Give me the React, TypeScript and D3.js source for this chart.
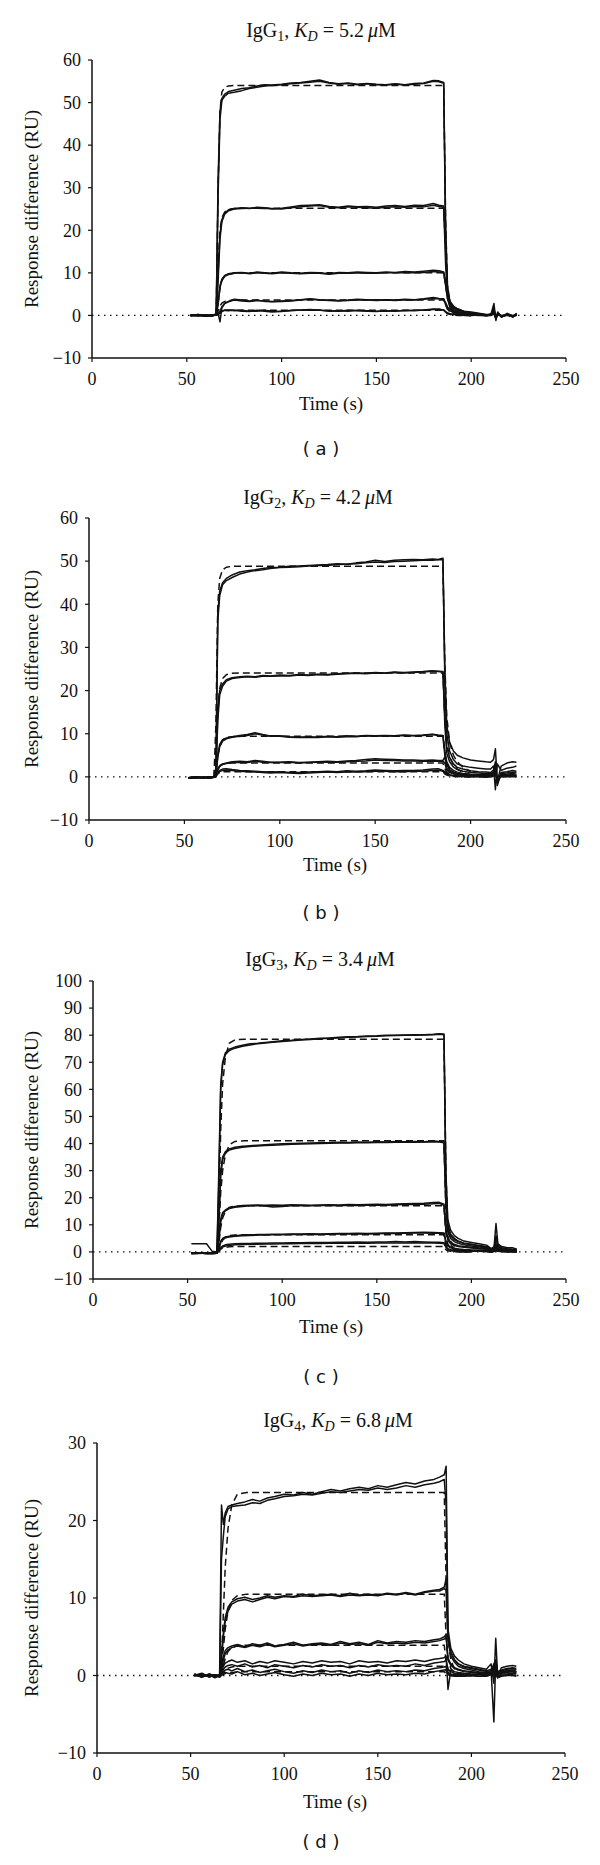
import React from 'react';
import * as d3 from 'd3';

// ---------- shared time grids (s) ----------
const TIME = [52, 56, 60, 63, 65.5, 66.5, 67.5, 68.5, 70, 72,
  75, 79, 83, 87, 91, 95, 100, 105, 110, 115,
  120, 125, 130, 135, 140, 145, 150, 155, 160, 165,
  170, 175, 180, 183, 185.5, 186.5, 187.5, 189, 191, 193,
  196, 200, 204, 208, 210.5, 212, 213, 214, 216, 219,
  222, 224];
const FIT_TIME = [65.5, 66.5, 67.5, 68.5, 70, 72, 75, 80, 90, 185.5, 186.5, 187.5, 189, 191, 193, 196, 200];

// ---------- text ----------
const SUBCLASS = ['1', '2', '3', '4'];
const KD_VALUES = ['5.2', '4.2', '3.4', '6.8'];
const PANEL_LETTERS = ['a', 'b', 'c', 'd'];
const Y_MAX = [60, 60, 100, 30];
const Y_MIN = -10;
const X_TICKS = [0, 50, 100, 150, 200, 250];

// ---------- panel (a) IgG1 ----------
const a1r1 = [0, 0.2, -0.2, 0.1, 0.3, 32, 48, 51, 52, 52.6,
  52.9, 53.3, 53.5, 53.9, 54.2, 54.1, 54.3, 54.6, 54.7, 55.0,
  55.3, 54.7, 54.4, 54.6, 54.3, 54.5, 54.3, 54.2, 54.4, 54.2,
  54.5, 54.6, 55.2, 55.1, 54.7, 18, 4, 1.5, 1, 0.7,
  0.5, 0.3, 0.2, 0, 0.4, 2.8, -1.2, 0.8, -0.4, 0.3,
  -0.4, 0.4];
const a1r2 = [0.1, -0.1, 0, -0.2, 0.2, 28, 46, 50.5, 51.5, 52.2,
  52.4, 52.8, 53.3, 53.6, 53.9, 54.0, 54.2, 54.4, 54.6, 54.8,
  55.0, 54.6, 54.3, 54.5, 54.2, 54.4, 54.2, 54.1, 54.3, 54.1,
  54.3, 54.5, 55.0, 54.9, 54.5, 22, 6, 2, 1.3, 0.9,
  0.6, 0.4, 0.2, 0.1, 0.3, 1.8, -0.8, 0.5, -0.2, 0.1,
  -0.2, 0.2];
const a2r1 = [0, 0.1, -0.2, 0.1, 0.2, 10, 19, 22.5, 24, 24.8,
  25.1, 25.3, 25.1, 25.4, 25.3, 25.0, 25.2, 25.5, 25.8, 25.9,
  26.0, 25.6, 25.4, 25.7, 25.5, 25.6, 25.4, 25.7, 25.8, 25.6,
  25.9, 25.8, 26.3, 25.9, 25.7, 16, 6, 3, 2, 1.5,
  1.0, 0.8, 0.5, 0.2, 0.3, 1.5, -0.8, 0.6, -0.3, 0.5,
  -0.2, 0.5];
const a2r2 = [-0.1, 0, 0.1, -0.1, 0.1, 8, 18, 22, 23.8, 24.6,
  25.0, 25.1, 25.2, 25.2, 25.1, 25.1, 25.0, 25.3, 25.5, 25.7,
  25.8, 25.4, 25.3, 25.5, 25.4, 25.3, 25.2, 25.4, 25.5, 25.4,
  25.6, 25.5, 25.9, 25.6, 25.4, 12, 4.5, 2.5, 1.8, 1.2,
  0.9, 0.6, 0.4, 0.1, 0.2, 1.0, -0.5, 0.4, -0.2, 0.3,
  -0.1, 0.3];
const a3r1 = [0, 0.2, 0, -0.1, 0.2, 3, 7, 8.5, 9.4, 9.8,
  10.0, 10.1, 9.9, 10.2, 10.0, 9.9, 10.2, 10.0, 9.9, 10.1,
  10.0, 9.8, 10.1, 10.0, 10.2, 10.1, 10.0, 10.2, 10.1, 10.3,
  10.2, 10.4, 10.6, 10.5, 10.2, 8, 5, 3.2, 2, 1.5,
  1.0, 0.6, 0.4, 0.1, 0.2, 1.2, -0.9, 0.5, -0.4, 0.2,
  -0.3, 0.4];
const a3r2 = [0.1, -0.1, 0.1, 0, 0.1, 2.5, 6.5, 8.2, 9.2, 9.6,
  9.9, 10.0, 9.8, 10.0, 9.9, 9.8, 10.0, 9.9, 9.8, 9.9,
  9.9, 9.7, 9.9, 9.9, 10.0, 9.9, 9.9, 10.0, 10.0, 10.1,
  10.0, 10.1, 10.3, 10.2, 10.0, 7, 4, 2.5, 1.6, 1.2,
  0.8, 0.5, 0.3, 0.1, 0.1, 0.8, -0.5, 0.3, -0.2, 0.1,
  -0.1, 0.2];
const a4r1 = [0, 0.1, -0.1, 0.1, 0.2, 0.5, -1.5, 1.8, 2.8, 3.2,
  3.6, 3.4, 3.3, 3.5, 3.4, 3.2, 3.3, 3.4, 3.6, 3.8,
  3.6, 3.5, 3.4, 3.5, 3.7, 3.6, 3.5, 3.6, 3.5, 3.7,
  3.6, 3.8, 4.0, 3.9, 3.8, 3, 2, 1.3, 0.8, 0.6,
  0.4, 0.3, 0.2, 0, 0.1, 0.9, -0.6, 0.3, -0.2, 0.2,
  -0.3, 0.2];
const a4r2 = [0.1, 0, 0, -0.1, 0.1, 0.3, 1, 2, 2.9, 3.3,
  3.8, 3.6, 3.4, 3.6, 3.3, 3.3, 3.4, 3.5, 3.7, 3.9,
  3.7, 3.6, 3.5, 3.6, 3.8, 3.7, 3.6, 3.7, 3.6, 3.8,
  3.7, 3.9, 4.2, 4.0, 3.9, 2.5, 1.5, 1, 0.6, 0.4,
  0.3, 0.2, 0.1, 0, 0.1, 0.6, -0.4, 0.2, -0.1, 0.1,
  -0.1, 0.1];
const a5r1 = [0, 0.1, -0.1, 0, 0.2, 0.3, 0.5, 0.9, 1.2, 1.1,
  1.3, 1.0, 0.9, 1.2, 1.0, 0.8, 1.0, 1.1, 1.3, 1.4,
  1.2, 1.1, 1.0, 1.2, 1.1, 1.0, 0.9, 1.1, 1.0, 1.2,
  1.1, 1.3, 1.5, 1.4, 1.3, 0.9, 0.6, 0.4, 0.3, 0.2,
  0.1, 0.1, 0, 0, 0.1, 0.5, -0.4, 0.2, -0.1, 0.1,
  -0.2, 0.1];
const a5r2 = [-0.1, 0, 0.1, -0.1, 0.1, 0.2, 0.7, 1.0, 1.3, 1.3,
  1.1, 1.2, 1.0, 1.0, 1.2, 1.0, 0.9, 1.2, 1.2, 1.2,
  1.3, 1.0, 1.1, 1.0, 1.2, 1.1, 1.0, 1.0, 1.1, 1.1,
  1.2, 1.2, 1.4, 1.5, 1.2, 0.8, 0.5, 0.3, 0.2, 0.1,
  0.1, 0, 0.1, -0.1, 0, 0.3, -0.2, 0.1, 0, 0,
  -0.1, 0];
const af1 = [0, 30, 48, 52.5, 53.6, 53.9, 54, 54, 54, 54, 22, 7, 1.8, 0.5, 0.2, 0.05, 0];
const af2 = [0, 12, 20, 23, 24.3, 24.9, 25.1, 25.2, 25.2, 25.2, 16, 7, 2.8, 1.2, 0.6, 0.3, 0.1];
const af3 = [0, 3, 6.5, 8.3, 9.3, 9.7, 9.9, 10, 10, 10, 7, 4, 2, 0.9, 0.4, 0.2, 0.1];
const af4 = [0, 1, 2.2, 2.9, 3.3, 3.5, 3.6, 3.6, 3.6, 3.6, 2.5, 1.5, 0.7, 0.3, 0.1, 0, 0];
const af5 = [0, 0.3, 0.7, 0.9, 1.1, 1.2, 1.2, 1.2, 1.2, 1.2, 0.8, 0.4, 0.2, 0.1, 0, 0, 0];

// ---------- panel (b) IgG2 ----------
const b1r1 = [-0.2, 0, -0.3, -0.1, 0, 0.5, 38, 43, 45, 46,
  46.8, 47.5, 47.8, 48, 48.3, 48.5, 48.6, 48.8, 48.9, 49.0,
  49.1, 49.2, 49.4, 49.3, 49.6, 49.8, 50.2, 49.9, 50.2, 50.3,
  50.4, 50.3, 50.5, 50.4, 50.7, 25, 12, 8, 6, 5,
  4.4, 3.9, 3.7, 3.5, 3.4, 4, 6.5, -1, 2.5, 3.2,
  3.5, 3.4];
const b1r2 = [-0.3, -0.2, -0.1, -0.3, -0.1, 0.3, 36, 42, 44.5, 45.5,
  46.2, 47.0, 47.5, 47.8, 48.0, 48.3, 48.5, 48.6, 48.7, 48.9,
  49.0, 49.0, 49.2, 49.3, 49.4, 49.6, 49.8, 49.7, 49.9, 50.0,
  50.1, 50.2, 50.2, 50.3, 50.4, 22, 10, 6, 4, 3,
  2.5, 2.2, 2, 1.8, 1.8, 2.5, -3, 3, 1.5, 2,
  2.2, 2.5];
const b2r1 = [-0.2, 0, -0.2, -0.1, 0, 0.3, 15, 20, 21.5, 22.5,
  23.0, 23.2, 23.3, 23.2, 23.5, 23.4, 23.6, 23.5, 23.7, 23.6,
  23.8, 23.7, 23.9, 24.0, 24.1, 24.0, 24.2, 24.1, 24.3, 24.2,
  24.3, 24.4, 24.6, 24.5, 24.4, 14, 7, 4.5, 3, 2.2,
  1.8, 1.4, 1.2, 1.1, 1.0, 1.6, 3.5, -2, 1, 1.2,
  1.5, 1.3];
const b2r2 = [-0.3, -0.1, -0.2, -0.2, -0.1, 0.2, 13, 19, 21, 22.2,
  22.8, 23.0, 23.2, 23.1, 23.3, 23.3, 23.4, 23.4, 23.6, 23.5,
  23.7, 23.6, 23.8, 23.9, 24.0, 23.9, 24.1, 24.0, 24.2, 24.1,
  24.2, 24.3, 24.5, 24.4, 24.3, 12, 5.5, 3.5, 2.3, 1.7,
  1.3, 1.0, 0.9, 0.8, 0.8, 1.2, 2, -1, 0.8, 0.9,
  1.1, 1.0];
const b3r1 = [-0.2, -0.1, -0.2, 0, 0, 0.2, 5, 7.5, 8.6, 9.0,
  9.3, 9.6, 9.8, 10.2, 9.8, 9.5, 9.5, 9.3, 9.2, 9.3,
  9.2, 9.4, 9.3, 9.5, 9.4, 9.6, 9.5, 9.6, 9.5, 9.7,
  9.6, 9.7, 9.9, 9.7, 9.6, 6, 3.5, 2.2, 1.5, 1.1,
  0.8, 0.6, 0.5, 0.5, 0.6, 1.0, 2.5, -1.5, 0.5, 0.6,
  0.8, 0.6];
const b3r2 = [-0.3, -0.2, -0.1, -0.2, -0.1, 0.1, 4.5, 7, 8.3, 8.8,
  9.2, 9.4, 9.6, 10.0, 9.7, 9.4, 9.4, 9.2, 9.1, 9.2,
  9.1, 9.3, 9.2, 9.3, 9.3, 9.5, 9.4, 9.5, 9.4, 9.6,
  9.5, 9.6, 9.8, 9.6, 9.5, 5, 2.8, 1.7, 1.1, 0.8,
  0.6, 0.4, 0.3, 0.3, 0.4, 0.8, 1.5, -1, 0.3, 0.4,
  0.5, 0.3];
const b4r1 = [-0.2, -0.1, -0.2, 0, -0.1, 0.2, 1.8, 2.6, 3.0, 3.2,
  3.5, 3.6, 3.5, 3.8, 3.6, 3.4, 3.4, 3.5, 3.3, 3.4,
  3.5, 3.6, 3.5, 3.7, 3.8, 4.0, 4.2, 4.1, 4.0, 3.9,
  3.9, 3.8, 3.9, 3.8, 3.8, 4.6, 2, 1.3, 0.9, 0.6,
  0.5, 0.4, 0.3, 0.3, 0.3, 0.7, 1.5, -0.8, 0.3, 0.4,
  0.4, 0.3];
const b4r2 = [-0.3, -0.2, -0.1, -0.2, -0.1, 0.1, 1.5, 2.4, 2.9, 3.1,
  3.3, 3.4, 3.3, 3.6, 3.4, 3.3, 3.3, 3.4, 3.2, 3.3,
  3.4, 3.4, 3.4, 3.5, 3.6, 3.7, 3.9, 3.8, 3.8, 3.7,
  3.7, 3.6, 3.7, 3.6, 3.6, 3.2, 1.6, 1, 0.7, 0.5,
  0.4, 0.3, 0.2, 0.2, 0.2, 0.5, 1, -0.5, 0.2, 0.3,
  0.3, 0.2];
const b5r1 = [-0.2, -0.1, -0.2, 0, -0.1, 0.1, 1.0, 1.5, 1.8, 1.9,
  1.7, 1.5, 1.4, 1.3, 1.2, 1.1, 1.2, 1.0, 1.0, 1.1,
  1.2, 1.3, 1.2, 1.4, 1.3, 1.4, 1.6, 1.5, 1.4, 1.5,
  1.5, 1.6, 1.8, 1.9, 1.5, 1.2, 0.8, 0.5, 0.3, 0.2,
  0.2, 0.1, 0.1, 0, 0.1, 0.3, 0.6, -0.4, 0.1, 0.1,
  0.2, 0.1];
const b5r2 = [-0.3, -0.2, -0.1, -0.2, -0.1, 0, 0.8, 1.2, 1.5, 1.6,
  1.5, 1.3, 1.2, 1.1, 1.0, 0.9, 1.0, 0.9, 0.8, 0.9,
  1.0, 1.1, 1.0, 1.1, 1.1, 1.2, 1.3, 1.3, 1.2, 1.2,
  1.3, 1.3, 1.5, 1.6, 1.3, 1.0, 0.6, 0.4, 0.2, 0.1,
  0.1, 0, 0, -0.1, 0, 0.2, 0.4, -0.3, 0, 0,
  0.1, 0];
const bf1 = [0, 12, 40, 46, 48, 48.6, 48.8, 48.8, 48.8, 48.8, 26, 14, 8, 5, 3.5, 2.2, 1.2];
const bf2 = [0, 6, 16, 20.5, 22.8, 23.7, 24.0, 24.1, 24.1, 24.1, 14, 8, 4.5, 2.8, 1.8, 1.0, 0.5];
const bf3 = [0, 2, 5, 7, 8.5, 9.1, 9.3, 9.4, 9.4, 9.4, 5.5, 3.2, 1.8, 1.1, 0.7, 0.4, 0.2];
const bf4 = [0, 0.8, 1.8, 2.5, 2.9, 3.1, 3.2, 3.2, 3.2, 3.2, 1.9, 1.1, 0.6, 0.4, 0.2, 0.1, 0];
const bf5 = [0, 0.3, 0.7, 1.0, 1.2, 1.2, 1.2, 1.2, 1.2, 1.2, 0.7, 0.4, 0.2, 0.1, 0.1, 0, 0];

// ---------- panel (c) IgG3 ----------
const c1r1 = [3, 3, 3, 0.2, 0, 30, 62, 70, 73.5, 74.8,
  75.6, 76.3, 76.8, 77.0, 77.3, 77.6, 77.9, 78.1, 78.4, 78.6,
  78.9, 79.0, 79.2, 79.4, 79.5, 79.7, 79.8, 80.0, 80.0, 80.1,
  80.2, 80.2, 80.3, 80.5, 80.4, 30, 12, 8, 6, 5,
  4, 3.5, 3, 2.5, 1.2, 2, 10.5, 3, 2, 1.5,
  1.5, 1.0];
const c1r2 = [-0.5, -0.6, -0.4, -0.5, -0.4, 25, 60, 69, 73, 74.3,
  75.2, 75.9, 76.4, 76.8, 77.1, 77.4, 77.7, 77.9, 78.2, 78.4,
  78.7, 78.9, 79.0, 79.2, 79.3, 79.5, 79.6, 79.8, 79.9, 80.0,
  80.0, 80.1, 80.2, 80.3, 80.2, 26, 10, 6.5, 5, 4,
  3.2, 2.8, 2.4, 2, 1, 1.5, 6, 2.5, 1.5, 1.2,
  1.0, 0.8];
const c2r1 = [-0.5, -0.4, -0.6, -0.5, -0.4, 12, 30, 35, 37, 38.0,
  38.6, 39.0, 39.2, 39.4, 39.6, 39.7, 39.9, 40.0, 40.1, 40.2,
  40.3, 40.3, 40.5, 40.4, 40.6, 40.5, 40.7, 40.6, 40.8, 40.7,
  40.8, 40.7, 40.9, 40.8, 40.5, 20, 9, 6, 4.5, 3.8,
  3.2, 2.7, 2.2, 1.8, 0.8, 1.2, 5, 2, 1.2, 1.0,
  0.8, 0.7];
const c2r2 = [-0.6, -0.5, -0.5, -0.6, -0.5, 10, 28, 34, 36.5, 37.6,
  38.2, 38.6, 38.9, 39.1, 39.3, 39.4, 39.6, 39.7, 39.8, 39.9,
  40.0, 40.1, 40.2, 40.2, 40.3, 40.3, 40.4, 40.4, 40.5, 40.5,
  40.5, 40.6, 40.7, 40.6, 40.3, 17, 7.5, 5, 3.8, 3.2,
  2.6, 2.2, 1.8, 1.5, 0.5, 1, 3, 1.5, 1, 0.8,
  0.6, 0.5];
const c3r1 = [-0.5, -0.4, -0.6, -0.5, -0.4, 5, 12, 14.5, 15.5, 16.3,
  16.8, 17.1, 17.2, 17.3, 17.2, 17.3, 17.2, 17.4, 17.3, 17.2,
  17.3, 17.4, 17.3, 17.5, 17.4, 17.5, 17.6, 17.5, 17.7, 17.8,
  17.9, 18.0, 18.2, 18.3, 17.6, 9, 5, 3.5, 2.8, 2.3,
  2.0, 1.7, 1.4, 1.2, 0.5, 0.8, 2.5, 1.2, 0.8, 0.7,
  0.6, 0.4];
const c3r2 = [-0.6, -0.5, -0.5, -0.6, -0.5, 4, 11, 14, 15.2, 16.0,
  16.5, 16.8, 17.0, 17.1, 16.9, 16.6, 16.8, 17.0, 17.1, 17.0,
  17.1, 17.1, 17.0, 17.2, 17.1, 17.2, 17.3, 17.2, 17.4, 17.5,
  17.5, 17.6, 17.8, 17.9, 17.2, 8, 4.5, 3, 2.4, 2,
  1.7, 1.4, 1.2, 1.0, 0.3, 0.6, 1.8, 1.0, 0.6, 0.5,
  0.4, 0.3];
const c4r1 = [-0.5, -0.4, -0.6, -0.5, -0.4, 1.5, 4, 5, 5.5, 5.8,
  6.0, 6.2, 6.3, 6.4, 6.4, 6.5, 6.5, 6.6, 6.6, 6.7,
  6.6, 6.7, 6.8, 6.8, 6.9, 6.8, 6.9, 7.0, 7.0, 7.1,
  7.2, 7.3, 7.2, 7.1, 7.0, 4, 2.5, 1.8, 1.4, 1.1,
  0.9, 0.7, 0.6, 0.5, 0.2, 0.4, 1.2, 0.6, 0.4, 0.3,
  0.3, 0.2];
const c4r2 = [-0.6, -0.5, -0.5, -0.6, -0.5, 1, 3.5, 4.6, 5.2, 5.5,
  5.8, 6.0, 6.1, 6.2, 6.2, 6.3, 6.3, 6.4, 6.4, 6.5,
  6.4, 6.5, 6.6, 6.6, 6.7, 6.6, 6.7, 6.8, 6.8, 6.9,
  7.0, 7.0, 6.9, 6.9, 6.8, 3.5, 2.2, 1.5, 1.2, 0.9,
  0.7, 0.6, 0.5, 0.4, 0.1, 0.3, 0.9, 0.4, 0.3, 0.2,
  0.2, 0.1];
const c5r1 = [-0.5, -0.4, -0.6, -0.5, -0.4, 0.5, 1.5, 2.2, 2.6, 2.8,
  3.0, 3.1, 3.1, 3.2, 3.2, 3.3, 3.3, 3.4, 3.4, 3.5,
  3.5, 3.5, 3.6, 3.6, 3.7, 3.6, 3.7, 3.7, 3.8, 3.7,
  3.8, 3.7, 3.6, 3.6, 3.4, 2, 1.2, 0.8, 0.6, 0.5,
  0.4, 0.3, 0.3, 0.2, 0, 0.2, 0.6, 0.3, 0.2, 0.1,
  0.1, 0];
const c5r2 = [-0.6, -0.5, -0.5, -0.6, -0.5, 0.3, 1.2, 1.8, 2.2, 2.4,
  2.6, 2.7, 2.8, 2.8, 2.9, 2.9, 3.0, 3.0, 3.1, 3.1,
  3.1, 3.2, 3.2, 3.2, 3.3, 3.2, 3.3, 3.3, 3.3, 3.3,
  3.4, 3.3, 3.3, 3.2, 3.1, 1.8, 1.0, 0.7, 0.5, 0.4,
  0.3, 0.2, 0.2, 0.1, -0.1, 0.1, 0.4, 0.2, 0.1, 0,
  0, 0];
const cf1 = [0, 15, 45, 62, 72, 77, 78.3, 78.5, 78.5, 78.5, 30, 10, 4, 2, 1, 0.5, 0.2];
const cf2 = [0, 8, 22, 30, 36, 39.5, 40.8, 41, 41, 41, 16, 6, 2.5, 1.2, 0.6, 0.3, 0.1];
const cf3 = [0, 3, 9, 12.5, 15, 16.4, 16.9, 17, 17, 17, 7, 3, 1.2, 0.6, 0.3, 0.1, 0];
const cf4 = [0, 1, 3, 4.3, 5.4, 6.0, 6.2, 6.3, 6.3, 6.3, 2.6, 1.1, 0.5, 0.2, 0.1, 0, 0];
const cf5 = [0, 0.3, 1, 1.4, 1.7, 1.9, 2.0, 2.0, 2.0, 2.0, 0.8, 0.4, 0.2, 0.1, 0, 0, 0];

// ---------- panel (d) IgG4 ----------
const d1r1 = [0.2, -0.2, 0.1, -0.3, 0, 22, 19.5, 21, 21.8, 22.0,
  22.2, 22.4, 22.7, 22.5, 22.9, 23.1, 23.4, 23.3, 23.6, 23.4,
  23.7, 24.0, 23.8, 24.1, 24.3, 24.1, 24.5, 24.3, 24.6, 24.9,
  24.7, 25.1, 25.3, 25.6, 25.9, 27, 6, 3.5, 2.5, 2,
  1.5, 1.2, 1, 0.8, 1.5, -1, 4.8, 0, 1, 1.2,
  1.3, 1.2];
const d1r2 = [0, 0.3, -0.2, 0.1, -0.1, 15, 18, 20.5, 21.5, 21.8,
  21.9, 22.0, 22.3, 22.2, 22.6, 22.8, 23.1, 23.2, 23.4, 23.3,
  23.5, 23.7, 23.6, 23.8, 24.0, 23.9, 24.2, 24.0, 24.2, 24.5,
  24.3, 24.6, 24.8, 25.0, 25.3, 22, 5, 3, 2, 1.5,
  1.2, 1.0, 0.8, 0.6, 0.8, -6, 2, 0.5, 0.7, 0.9,
  1.0, 0.9];
const d2r1 = [0.1, -0.2, 0.2, -0.1, 0.1, 3, 5.5, 7.5, 8.8, 9.5,
  9.9, 10.1, 9.8, 10.0, 10.3, 10.1, 10.3, 10.2, 10.5, 10.3,
  10.4, 10.5, 10.3, 10.6, 10.4, 10.5, 10.4, 10.6, 10.5, 10.7,
  10.5, 10.8, 11.0, 11.1, 11.4, 12.5, 5, 3, 2, 1.5,
  1.1, 0.9, 0.7, 0.5, 0.6, 1.5, 2, 0.4, 0.6, 0.8,
  0.9, 0.7];
const d2r2 = [-0.1, 0.2, -0.1, 0.1, -0.2, 2, 5, 7, 8.3, 9.2,
  9.6, 9.8, 9.5, 9.8, 10.1, 9.9, 10.2, 10.1, 10.3, 10.2,
  10.3, 10.4, 10.2, 10.4, 10.3, 10.4, 10.3, 10.5, 10.4, 10.6,
  10.4, 10.7, 10.9, 10.9, 11.2, 11, 4.5, 2.5, 1.7, 1.2,
  0.9, 0.7, 0.5, 0.4, 0.4, 0.8, 1.2, 0.2, 0.4, 0.6,
  0.7, 0.5];
const d3r1 = [0.2, -0.1, 0.1, -0.2, 0.1, 1, 2.5, 3.2, 3.6, 3.8,
  4.0, 3.7, 4.1, 3.9, 4.2, 3.8, 4.0, 4.3, 3.9, 4.1,
  4.2, 4.0, 4.4, 4.1, 4.3, 4.0, 4.5, 4.2, 4.4, 4.3,
  4.5, 4.4, 4.6, 4.7, 5.0, 5.3, 2.2, 1.5, 1, 0.8,
  0.6, 0.5, 0.4, 0.3, 0.5, 1.2, 1.5, 0.2, 0.5, 0.6,
  0.7, 0.5];
const d3r2 = [0, 0.2, -0.1, 0.1, -0.1, 0.8, 2, 2.8, 3.3, 3.6,
  3.8, 3.6, 3.9, 3.7, 4.0, 3.7, 3.9, 4.1, 3.8, 4.0,
  4.0, 3.9, 4.2, 4.0, 4.1, 3.9, 4.3, 4.1, 4.2, 4.1,
  4.3, 4.2, 4.4, 4.5, 4.7, 4.9, 2, 1.3, 0.9, 0.7,
  0.5, 0.4, 0.3, 0.2, 0.4, 0.9, 1.1, 0.1, 0.4, 0.5,
  0.5, 0.4];
const d4r1 = [0.1, -0.2, 0.2, -0.1, 0.1, 0.5, 1.2, 1.6, 1.8, 2.0,
  1.7, 1.9, 1.5, 1.8, 1.6, 1.9, 1.7, 1.5, 1.8, 1.6,
  1.9, 1.7, 1.8, 1.5, 1.9, 1.7, 1.8, 1.6, 1.9, 1.8,
  2.0, 1.8, 2.1, 2.2, 2.3, 2.5, -1.8, 0.7, 0.5, 0.4,
  0.3, 0.2, 0.2, 0.1, 0.5, 1.0, 1.2, -0.2, 0.3, 0.4,
  0.5, 0.3];
const d4r2 = [0, 0.2, -0.2, 0.1, -0.1, 0.3, 0.8, 1.1, 1.3, 1.4,
  1.2, 1.5, 1.1, 1.3, 1.0, 1.4, 1.2, 1.0, 1.3, 1.1,
  1.4, 1.2, 1.3, 1.0, 1.3, 1.1, 1.4, 1.2, 1.3, 1.2,
  1.5, 1.3, 1.6, 1.7, 1.8, 2, 0.8, 0.5, 0.3, 0.2,
  0.2, 0.1, 0.1, 0, 0.3, 0.6, 0.8, -0.3, 0.2, 0.2,
  0.3, 0.2];
const d5r1 = [0.1, -0.1, 0.1, -0.2, 0, 0.2, 0.5, 0.7, 0.8, 0.6,
  0.9, 0.5, 0.7, 0.4, 0.6, 0.8, 0.5, 0.3, 0.6, 0.4,
  0.7, 0.5, 0.6, 0.3, 0.6, 0.4, 0.7, 0.5, 0.6, 0.5,
  0.7, 0.6, 0.9, 1.0, 1.1, 1.2, 0.4, 0.2, 0.1, 0,
  0, 0, -0.1, 0, 0.2, 0.4, 0.5, -0.2, 0, 0.1,
  0.1, 0];
const d5r2 = [0, 0.1, -0.1, 0, -0.2, 0, 0.3, 0.4, 0.3, 0.2,
  0.5, 0.1, 0.3, 0, 0.2, 0.4, 0.1, -0.1, 0.2, 0,
  0.3, 0.1, 0.2, -0.1, 0.2, 0, 0.3, 0.1, 0.2, 0.1,
  0.3, 0.2, 0.5, 0.6, 0.7, 0.8, 0.1, 0, -0.1, -0.1,
  -0.1, 0, -0.1, -0.1, 0.1, 0.2, 0.3, -0.3, -0.1, 0,
  0, -0.1];
const df1 = [0, 2, 8, 14, 19, 22, 23.4, 23.6, 23.6, 23.6, 12, 5, 2, 0.8, 0.3, 0.1, 0];
const df2 = [0, 1, 3.5, 6, 8.3, 9.7, 10.3, 10.5, 10.5, 10.5, 5, 2.2, 0.9, 0.4, 0.2, 0.1, 0];
const df3 = [0, 0.4, 1.3, 2.2, 3.1, 3.6, 3.85, 3.9, 3.9, 3.9, 1.8, 0.8, 0.3, 0.1, 0, 0, 0];
const df4 = [0, 0.15, 0.45, 0.7, 0.95, 1.1, 1.2, 1.2, 1.2, 1.2, 0.6, 0.25, 0.1, 0, 0, 0, 0];
const df5 = [0, 0.05, 0.15, 0.25, 0.35, 0.4, 0.45, 0.5, 0.5, 0.5, 0.25, 0.1, 0, 0, 0, 0, 0];

const OBSERVED = [
  [a1r1, a1r2, a2r1, a2r2, a3r1, a3r2, a4r1, a4r2, a5r1, a5r2],
  [b1r1, b1r2, b2r1, b2r2, b3r1, b3r2, b4r1, b4r2, b5r1, b5r2],
  [c1r1, c1r2, c2r1, c2r2, c3r1, c3r2, c4r1, c4r2, c5r1, c5r2],
  [d1r1, d1r2, d2r1, d2r2, d3r1, d3r2, d4r1, d4r2, d5r1, d5r2],
];
const FITTED = [
  [af1, af2, af3, af4, af5],
  [bf1, bf2, bf3, bf4, bf5],
  [cf1, cf2, cf3, cf4, cf5],
  [df1, df2, df3, df4, df5],
];

// ---------- layout (pixels) ----------
const LAYOUT = [
  { x0: 92, x1: 566, yTop: 60, yBot: 358, tx: 321, ty: 37, xlx: 331, xly: 410, ly: 449 },
  { x0: 89, x1: 566, yTop: 518, yBot: 820, tx: 318, ty: 504, xlx: 335, xly: 871, ly: 913 },
  { x0: 93, x1: 566, yTop: 981, yBot: 1279, tx: 320, ty: 966, xlx: 331, xly: 1333, ly: 1377 },
  { x0: 97, x1: 565, yTop: 1443, yBot: 1753, tx: 338, ty: 1427, xlx: 335, xly: 1808, ly: 1842 },
];

const SERIF = "'Liberation Serif', 'Times New Roman', serif";
const SANS = "'DejaVu Sans', Verdana, sans-serif";

function Panel({ p }: { p: number }) {
  const L = LAYOUT[p];
  const x = d3.scaleLinear().domain([0, 250]).range([L.x0, L.x1]);
  const y = d3.scaleLinear().domain([Y_MIN, Y_MAX[p]]).range([L.yBot, L.yTop]);
  const yTicks = d3.range(Y_MIN, Y_MAX[p] + 1, 10);
  const obsLine = d3.line<number>().x((_, i) => x(TIME[i])).y((v) => y(v));
  const fitLine = d3.line<number>().x((_, i) => x(FIT_TIME[i])).y((v) => y(v));
  const ymid = (L.yTop + L.yBot) / 2;
  return (
    <g>
      <text x={L.tx} y={L.ty} textAnchor="middle" fontFamily={SERIF} fontSize={20} fill="#111">
        IgG<tspan dy={4} fontSize={14}>{SUBCLASS[p]}</tspan>
        <tspan dy={-4}>, </tspan>
        <tspan fontStyle="italic">K</tspan>
        <tspan dy={4} fontSize={14} fontStyle="italic">D</tspan>
        <tspan dy={-4}>{` = ${KD_VALUES[p]}\u2009`}</tspan>
        <tspan fontStyle="italic">μ</tspan>M
      </text>
      {/* zero line */}
      <line x1={L.x0} x2={L.x1} y1={y(0)} y2={y(0)} stroke="#111" strokeWidth={1.3} strokeDasharray="1.5 4.5" />
      {/* fitted curves */}
      {FITTED[p].map((s, i) => (
        <path key={'f' + i} d={fitLine(s) || ''} fill="none" stroke="#111" strokeWidth={1.5} strokeDasharray="7 4" />
      ))}
      {/* observed curves */}
      {OBSERVED[p].map((s, i) => (
        <path key={'o' + i} d={obsLine(s) || ''} fill="none" stroke="#111" strokeWidth={1.5} strokeLinejoin="round" />
      ))}
      {/* axes */}
      <line x1={L.x0} x2={L.x0} y1={L.yTop} y2={L.yBot} stroke="#111" strokeWidth={1.5} />
      <line x1={L.x0} x2={L.x1} y1={L.yBot} y2={L.yBot} stroke="#111" strokeWidth={1.5} />
      {yTicks.map((t) => (
        <g key={'y' + t}>
          <line x1={L.x0 - 4} x2={L.x0} y1={y(t)} y2={y(t)} stroke="#111" strokeWidth={1.2} />
          <text x={L.x0 - 11} y={y(t)} dy="0.35em" textAnchor="end" fontFamily={SERIF} fontSize={18} fill="#111">
            {t < 0 ? '\u2212' + Math.abs(t) : String(t)}
          </text>
        </g>
      ))}
      {X_TICKS.map((t) => (
        <g key={'x' + t}>
          <line x1={x(t)} x2={x(t)} y1={L.yBot} y2={L.yBot + 4} stroke="#111" strokeWidth={1.2} />
          <text x={x(t)} y={L.yBot + 27} textAnchor="middle" fontFamily={SERIF} fontSize={18} fill="#111">
            {t}
          </text>
        </g>
      ))}
      <text x={L.xlx} y={L.xly} textAnchor="middle" fontFamily={SERIF} fontSize={19} fill="#111">Time (s)</text>
      <text transform={`translate(31,${ymid}) rotate(-90)`} dy="0.35em" textAnchor="middle" fontFamily={SERIF} fontSize={19} fill="#111">
        Response difference (RU)
      </text>
      <text x={321} y={L.ly} dy="0.35em" textAnchor="middle" fontFamily={SANS} fontSize={18} fill="#111">
        {`( ${PANEL_LETTERS[p]} )`}
      </text>
    </g>
  );
}

export default function App() {
  return (
    <svg width={600} height={1865} style={{ position: 'absolute', left: 0, top: 0, background: '#fff' }}>
      {LAYOUT.map((_, p) => <Panel key={p} p={p} />)}
    </svg>
  );
}
